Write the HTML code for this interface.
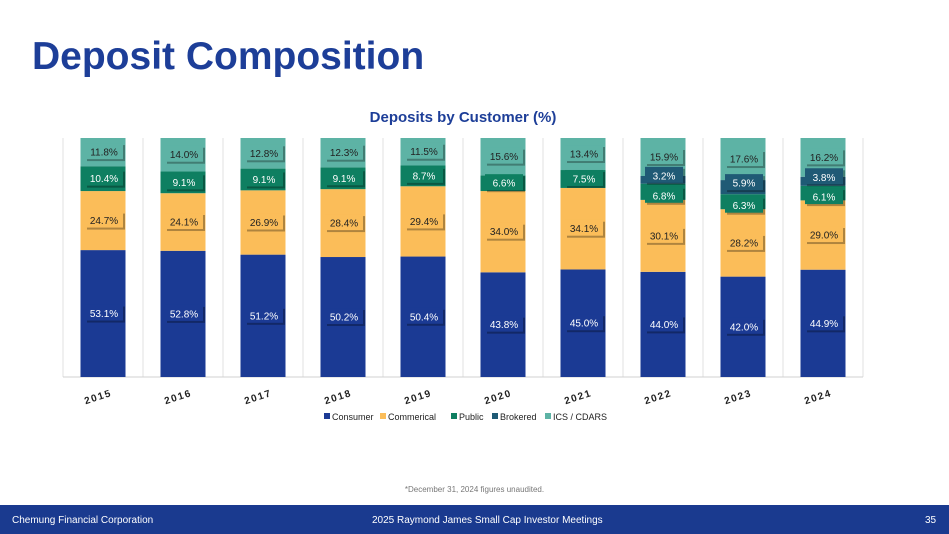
<!DOCTYPE html>
<html><head><meta charset="utf-8">
<style>
body{margin:0;width:949px;height:534px;overflow:hidden;background:#fff;font-family:"Liberation Sans",sans-serif;position:relative}
#title{position:absolute;left:32px;top:35px;font-size:39px;font-weight:bold;color:#1d3e98;letter-spacing:0px}
#footer{position:absolute;left:0;top:505px;width:949px;height:29px;background:#1a3a8f;color:#fff;font-size:10px}
#footer span{position:absolute;top:10px}
#note{position:absolute;top:485px;width:949px;text-align:center;font-size:8px;color:#777}
</style></head><body>
<div id="title">Deposit Composition</div>
<svg id="chart" width="949" height="480" style="position:absolute;left:0;top:0"></svg>
<div id="note">*December 31, 2024 figures unaudited.</div>
<div id="footer">
<span style="left:12px">Chemung Financial Corporation</span>
<span style="left:372px">2025 Raymond James Small Cap Investor Meetings</span>
<span style="left:925px">35</span>
</div>
<script>
const years=["2015","2016","2017","2018","2019","2020","2021","2022","2023","2024"];
const consumer=[53.1,52.8,51.2,50.2,50.4,43.8,45.0,44.0,42.0,44.9];
const commercial=[24.7,24.1,26.9,28.4,29.4,34.0,34.1,30.1,28.2,29.0];
const pub=[10.4,9.1,9.1,9.1,8.7,6.6,7.5,6.8,6.3,6.1];
const brokered=[0,0,0,0,0,0,0,3.2,5.9,3.8];
const ics=[11.8,14.0,12.8,12.3,11.5,15.6,13.4,15.9,17.6,16.2];
const seriesNames=["Consumer","Commerical","Public","Brokered","ICS / CDARS"];
const colors=["#1b3a94","#fbbd59","#0e7f61","#1f5a75","#5db3a5"];
const textColors=["#fff","#222","#fff","#fff","#222"];
const ns="http://www.w3.org/2000/svg";
const svg=document.getElementById('chart');
const plotL=63,plotT=138,plotB=377,bandW=80,barW=45;
const xC=i=>plotL+bandW*i+bandW/2;
const yS=v=>(plotB-plotT)*v/100;
function mk(t,a,p){const e=document.createElementNS(ns,t);for(const k in a)e.setAttribute(k,a[k]);(p||svg).appendChild(e);return e;}
let st=mk('text',{x:463,y:122,'text-anchor':'middle','font-size':15,'font-weight':'bold',fill:'#1d3e98'});
st.textContent="Deposits by Customer (%)";


for(let i=0;i<=10;i++){let g=mk('line',{x1:plotL+bandW*i,x2:plotL+bandW*i,y1:plotT,y2:plotB,stroke:'#e2e2e2'});

}
let ax=mk('line',{x1:plotL,x2:plotL+bandW*10,y1:plotB,y2:plotB,stroke:'#d0d0d0'});


const all=[consumer,commercial,pub,brokered,ics];
years.forEach((yr,i)=>{
  let y=plotB;
  all.forEach((s,k)=>{
    const h=yS(s[i]); if(h<=0)return;
    y-=h;
    let r=mk('rect',{x:xC(i)-barW/2,y:y,width:barW,height:h,fill:colors[k]});
    
    
  });
  y=plotB;
  const hasB=brokered[i]>0;
  all.forEach((s,k)=>{
    const h=yS(s[i]); if(h<=0)return;
    y-=h;
    let cy=y+h/2;
    if(hasB&&k===2)cy+=4;
    if(hasB&&k===3)cy-=4;
    mk('rect',{x:xC(i)-16,y:cy-7,width:38,height:16,fill:'#000',opacity:0.3});
    mk('rect',{x:xC(i)-18,y:cy-9,width:38,height:16,fill:colors[k]});
    let t=mk('text',{x:xC(i)+1,y:cy+3.5,'text-anchor':'middle','font-size':10,fill:textColors[k]});
    t.textContent=s[i].toFixed(1)+"%";
    
    
  });
  let yl=mk('text',{x:xC(i)-4,y:400,'text-anchor':'middle','font-size':10,'font-weight':'bold','letter-spacing':'1.5',fill:'#222',transform:`rotate(-18 ${xC(i)-4} 400)`});
  yl.textContent=yr;
  
  
});
const legX=[324,380,451,492,545];
seriesNames.forEach((n,k)=>{
  let g=mk('g',{});
  
  
  mk('rect',{x:legX[k],y:413,width:6,height:6,fill:colors[k]},g);
  let t=mk('text',{x:legX[k]+8,y:420,'font-size':9,fill:'#222'},g);
  t.textContent=n;
});
</script>
</body></html>
